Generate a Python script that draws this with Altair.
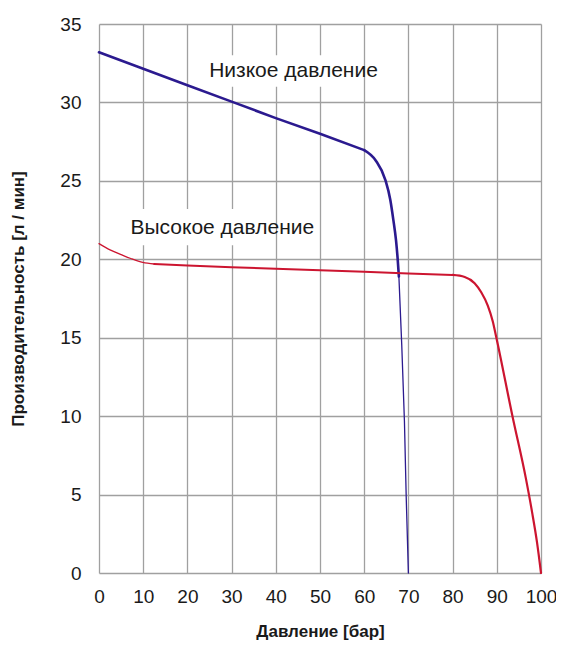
import altair as alt
import pandas as pd

# Low-pressure curve (blue)
blue_lin_x = [0, 10, 20, 30, 40, 50, 60]
blue_lin_y = [33.2, 32.15, 31.1, 30.05, 29.0, 28.0, 26.96]
blue_curve_x = [60, 62.6, 64.8, 65.9, 66.6, 67.2, 67.55, 67.85]
blue_curve_y = [26.96, 26.3, 25.05, 23.8, 22.5, 21.2, 20.1, 18.9]
blue_thin_x = [67.85, 68.5, 69.1, 69.5, 70.0]
blue_thin_y = [18.9, 14.5, 9.7, 4.9, 0.0]

# High-pressure curve (red)
red_thin_x = [0, 2.5, 5, 7.2, 9.9, 12.5]
red_thin_y = [21.0, 20.6, 20.3, 20.05, 19.8, 19.7]
red_lin_x = [12.5, 20, 30, 40, 50, 60, 70, 80]
red_lin_y = [19.7, 19.6, 19.5, 19.4, 19.3, 19.2, 19.1, 19.0]
red_curve_x = [80, 82.74, 84.98, 86.48, 87.96, 89.08, 89.83, 93.57, 96.6, 98, 99.1, 100]
red_curve_y = [19.0, 18.87, 18.48, 17.9, 17.05, 16.05, 15.1, 9.96, 6.0, 3.85, 1.95, 0.0]

label_text = ["Низкое давление", "Высокое давление"]
label_x = [44, 27.9]
label_y = [32.0, 22.0]

x_ticks = [0, 10, 20, 30, 40, 50, 60, 70, 80, 90, 100]
y_ticks = [0, 5, 10, 15, 20, 25, 30, 35]

BLUE = "#2b1a8f"
RED = "#cc1530"
FONT = "Liberation Sans"

xs = alt.Scale(domain=[0, 100], nice=False, zero=False)
ys = alt.Scale(domain=[0, 35], nice=False, zero=False)

x_axis = alt.Axis(values=x_ticks, title="Давление [бар]")
y_axis = alt.Axis(values=y_ticks, title="Производительность [л / мин]")


def line(xv, yv, color, width, interp):
    df = pd.DataFrame({"x": xv, "y": yv})
    return alt.Chart(df).mark_line(color=color, strokeWidth=width, interpolate=interp,
                                   strokeJoin="round", strokeCap="round").encode(
        x=alt.X("x:Q", scale=xs, axis=x_axis),
        y=alt.Y("y:Q", scale=ys, axis=y_axis),
    )


bg = pd.DataFrame({"x": [0]})
rect1 = alt.Chart(bg).mark_rect(color="white").encode(
    x=alt.datum(25.5, scale=xs), x2=alt.datum(57),
    y=alt.datum(31.0, scale=ys), y2=alt.datum(33.0),
)
rect2 = alt.Chart(bg).mark_rect(color="white").encode(
    x=alt.datum(7.3, scale=xs), x2=alt.datum(37),
    y=alt.datum(20.9, scale=ys), y2=alt.datum(23.2),
)

labels = alt.Chart(pd.DataFrame({"t": label_text, "x": label_x, "y": label_y})).mark_text(
    font=FONT, fontSize=21, color="#1a1a1a"
).encode(
    x=alt.X("x:Q", scale=xs, axis=x_axis),
    y=alt.Y("y:Q", scale=ys, axis=y_axis),
    text="t:N",
)

chart = alt.layer(
    rect1, rect2,
    line(blue_lin_x, blue_lin_y, BLUE, 2.6, "linear"),
    line(blue_curve_x, blue_curve_y, BLUE, 2.6, "monotone"),
    line(blue_thin_x, blue_thin_y, BLUE, 1.3, "linear"),
    line(red_thin_x, red_thin_y, RED, 1.3, "monotone"),
    line(red_lin_x, red_lin_y, RED, 2.0, "linear"),
    line(red_curve_x, red_curve_y, RED, 2.2, "monotone"),
    labels,
).properties(
    width=442, height=549,
    autosize=alt.AutoSizeParams(type="none"),
    padding={"left": 91, "top": 16, "right": 15, "bottom": 74},
).configure_view(
    stroke=None
).configure_axis(
    domain=False, ticks=False, tickSize=0, labelFlush=False,
    grid=True, gridColor="#a0a0a0", gridWidth=1.3,
    labelFont=FONT, labelFontSize=19, labelColor="#1a1a1a",
    titleFont=FONT, titleFontSize=17, titleFontWeight="bold", titleColor="#1a1a1a",
).configure_axisX(
    labelPadding=14, titlePadding=17,
).configure_axisY(
    labelPadding=18, titlePadding=32,
)

chart.save("out.html", embed_options={"renderer": "svg", "actions": False})
